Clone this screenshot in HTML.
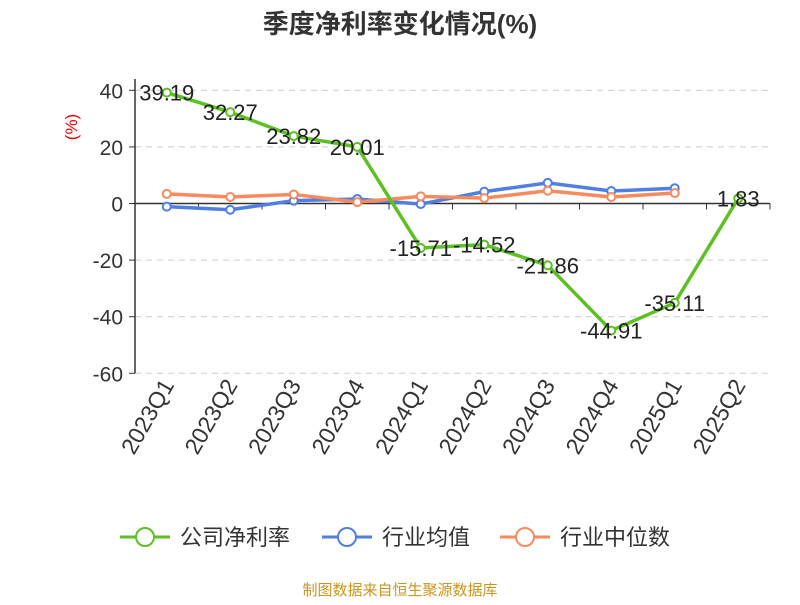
<!DOCTYPE html>
<html><head><meta charset="utf-8"><style>
body{margin:0;background:#fff;font-family:"Liberation Sans","Noto Sans CJK SC",sans-serif}
</style></head><body>
<svg id="c" width="800" height="600" xmlns="http://www.w3.org/2000/svg" font-family="Liberation Sans, Noto Sans CJK SC, sans-serif"></svg>
<script>
const categories=["2023Q1","2023Q2","2023Q3","2023Q4","2024Q1","2024Q2","2024Q3","2024Q4","2025Q1","2025Q2"];
const companyValues=[39.19,32.27,23.82,20.01,-15.71,-14.52,-21.86,-44.91,-35.11,1.83];
const industryAvg=[-1.1,-2.2,1.0,1.6,-0.2,4.2,7.3,4.4,5.4];
const industryMedian=[3.4,2.3,3.2,0.5,2.5,1.9,4.5,2.3,3.7];
const yTicks=[40,20,0,-20,-40,-60];
const svg=document.getElementById('c');const NS="http://www.w3.org/2000/svg";
function mk(t,a,p,txt){const e=document.createElementNS(NS,t);for(const k in a)e.setAttribute(k,a[k]);if(txt!==undefined)e.textContent=txt;(p||svg).appendChild(e);return e;}
const x0=135,x1=770,bw=(x1-x0)/categories.length;
const X=i=>x0+bw*(i+0.5);
const Y=v=>203.5-(v)*(283/100);
let t=mk('text',{x:400,y:33,'text-anchor':'middle','font-size':26,'font-weight':'bold',fill:'#333'},null,'季度净利率变化情况(%)');

t=mk('text',{x:0,y:0,'font-size':17,fill:'#e00','text-anchor':'middle',transform:'translate(77,127) rotate(-90)'},null,'(%)');

yTicks.forEach(v=>{const y=Y(v);
 if(v!==0){const l=mk('line',{x1:x0,x2:x1,y1:y,y2:y,stroke:'#ccc','stroke-dasharray':'6,5'});}
 mk('line',{x1:x0-6,x2:x0,y1:y,y2:y,stroke:'#333'});
 const tx=mk('text',{x:x0-12,y:y+8,'text-anchor':'end','font-size':21,fill:'#333'},null,String(v));
 });
let ax=mk('line',{x1:x0,x2:x0,y1:Y(44),y2:Y(-60),stroke:'#333','stroke-width':1.5});

ax=mk('line',{x1:x0,x2:x1,y1:Y(0),y2:Y(0),stroke:'#333','stroke-width':1.5});

categories.forEach((c,i)=>{mk('line',{x1:x0+bw*(i+1),x2:x0+bw*(i+1),y1:Y(0),y2:Y(0)+6,stroke:'#333'});
 const tx=mk('text',{x:0,y:0,'text-anchor':'end','font-size':23,fill:'#333',transform:`translate(${X(i)+8},${385}) rotate(-60)`},null,c);
 });
function series(vals,color,name,w){
 const g=mk('g',{});
 mk('polyline',{points:vals.map((v,i)=>X(i)+','+Y(v)).join(' '),fill:'none',stroke:color,'stroke-width':w},g);
 vals.forEach((v,i)=>{const p=mk('circle',{cx:X(i),cy:Y(v),r:4,fill:'#fff',stroke:color,'stroke-width':2},g);
  });
 return g;}
series(industryAvg,'#4f7fe0','industry-average-line',3.5);
series(industryMedian,'#f88a5e','industry-median-line',3.5);
const g=series(companyValues,'#5cc123','company-net-margin-line',3.5);
companyValues.forEach((v,i)=>{const tx=mk('text',{x:X(i),y:Y(v)+8,'text-anchor':'middle','font-size':22,fill:'#222'},g,v.toFixed(2));
 });
const leg=[['公司净利率','#5cc123',120],['行业均值','#4f7fe0',322],['行业中位数','#f88a5e',500]];
leg.forEach(([n,c,x])=>{const lg=mk('g',{});
 mk('line',{x1:x,x2:x+50,y1:537,y2:537,stroke:c,'stroke-width':3},lg);
 mk('circle',{cx:x+25,cy:537,r:9,fill:'#fff',stroke:c,'stroke-width':2},lg);
 mk('text',{x:x+60,y:545,'font-size':22,fill:'#333'},lg,n);});
t=mk('text',{x:400,y:595,'text-anchor':'middle','font-size':15,fill:'#c8961e'},null,'制图数据来自恒生聚源数据库');

</script></body></html>
